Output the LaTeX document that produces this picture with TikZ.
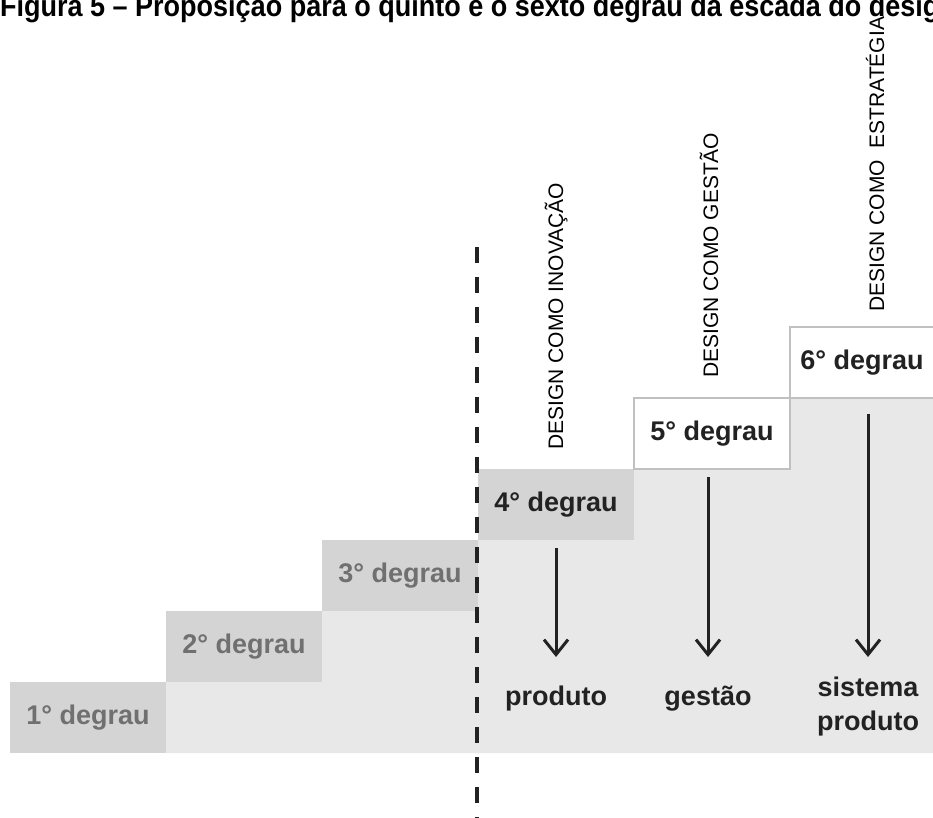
\documentclass[tikz,border=0pt]{standalone}
\usepackage{fontspec}
\setmainfont{Liberation Sans}
\newfontfamily\titlefont[FakeStretch=0.9]{Liberation Sans}
\usepackage{tikz}
\usetikzlibrary{positioning}
\usetikzlibrary{arrows.meta,backgrounds}
\definecolor{stepdark}{HTML}{D4D4D4}
\definecolor{steplight}{HTML}{E8E8E8}
\definecolor{stepfaded}{HTML}{707070}
\definecolor{stepedge}{HTML}{C0C0C0}
\definecolor{stepink}{HTML}{222222}

\begin{document}
\begin{tikzpicture}[x=1pt, y=1pt,
    deg/.style={minimum width=156pt, minimum height=71pt, inner sep=0pt, outer sep=0pt,
      font=\fontsize{27}{32}\selectfont\bfseries},
    old/.style={deg, fill=stepdark, text=stepfaded},
    new/.style={deg, fill=white, draw=stepedge, line width=2pt, text=stepink},
    vlab/.style={anchor=west, rotate=90, inner sep=0pt, font=\fontsize{21}{25}\selectfont},
    lab/.style={anchor=base, inner sep=0pt, align=center, text=stepink,
      font=\fontsize{27}{34}\selectfont\bfseries},
    arr/.style={line width=3pt, stepink, -{Straight Barb[length=15pt, width=24pt]}},
    cut/.style={line width=4pt, stepink, dash pattern=on 16pt off 14pt}]
    \useasboundingbox (0,0) rectangle (933,817);

    \node(title) [anchor=base west, inner sep=0pt, font=\titlefont\fontsize{30}{34}\selectfont\bfseries]
      at (0,800) {Figura 5 – Proposição para o quinto e o sexto degrau da escada do design};

    % escada
    \node(d1) [old] at (88,99.5) {1° degrau};
    \node(d2) [old, above right=0pt of d1] {2° degrau};
    \node(d3) [old, above right=0pt of d2] {3° degrau};
    \node(d4) [old, text=stepink, above right=0pt of d3] {4° degrau};
    \node(d5) [new, above right=0pt of d4] {5° degrau};
    \node(d6) [new, minimum width=144pt, above right=0pt of d5] {6° degrau};

    \begin{scope}[on background layer]
      \fill[steplight] (d1.south east) -- (d1.south east -| d6.south east) -- (d6.south east)
        -- (d6.south west) -- (d5.south east) -- (d5.south west) -- (d4.south east)
        -- (d4.south west) -- (d3.south east) -- (d3.south west) -- (d2.south east)
        -- (d2.south west) -- cycle;
    \end{scope}

    \node(v4) [above=19pt of d4, vlab] {DESIGN COMO INOVAÇÃO};
    \node(v5) [above=20pt of d5, xshift=-3pt, vlab] {DESIGN COMO GESTÃO};
    \node(v6) [above=15pt of d6, xshift=13pt, vlab] {DESIGN COMO\ \ ESTRATÉGIA};

    \node(p4) [lab] at (556,112) {produto};
    \node(p5) [lab] at (708,112) {gestão};
    \node(p6) [lab] at (868,87) {sistema\\produto};

    \coordinate(tips) at (0,160);
    \draw[arr, shorten <=8pt] (p4 |- d4.south) -- (p4 |- tips);
    \draw[arr, shorten <=8pt] (p5 |- d5.south) -- (p5 |- tips);
    \draw[arr, shorten <=16pt] (p6 |- d6.south) -- (p6 |- tips);

    \coordinate(ctop) at (477,570);
    \coordinate(cbot) at (477,-12);
    \draw[cut] (ctop) -- (cbot);
  \end{tikzpicture}
\end{document}
